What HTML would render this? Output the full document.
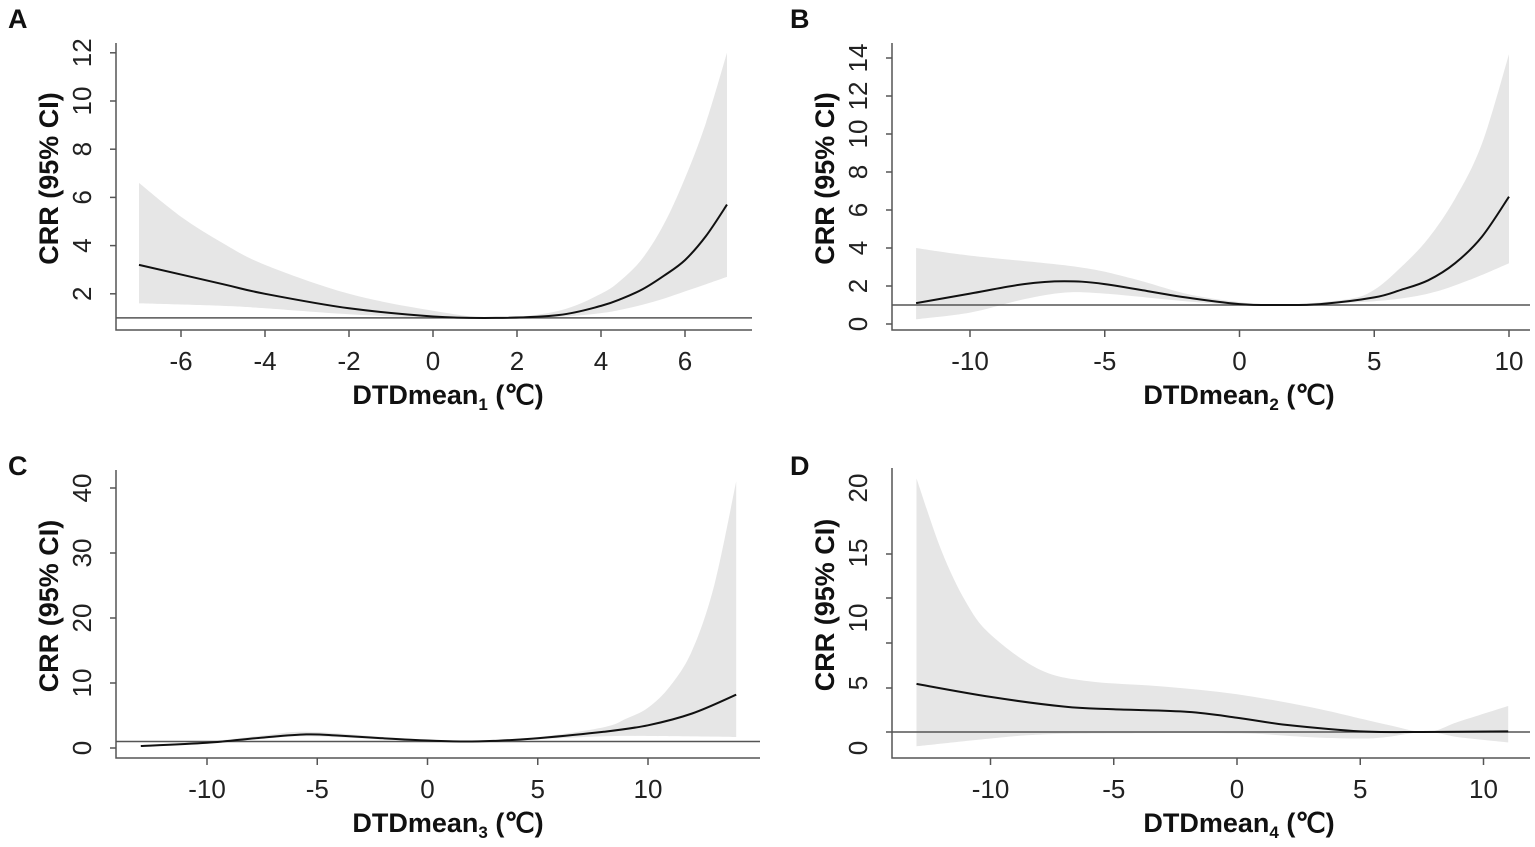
<!DOCTYPE html>
<html><head><meta charset="utf-8"><style>
body{margin:0;background:#fff;}
svg{display:block;font-family:"Liberation Sans",Arial,sans-serif;}
.t{font-size:26px;fill:#222;}
.b{font-size:27px;font-weight:bold;fill:#111;}
</style></head><body>
<svg id="s" width="1535" height="847" viewBox="0 0 1535 847" xmlns="http://www.w3.org/2000/svg"></svg>
<script>
const S=document.getElementById('s');let h='';
function cr(pts){let d='M'+pts[0][0].toFixed(1)+','+pts[0][1].toFixed(1);
 for(let i=0;i<pts.length-1;i++){const p0=pts[Math.max(0,i-1)],p1=pts[i],p2=pts[i+1],p3=pts[Math.min(pts.length-1,i+2)];
 const c1=[p1[0]+(p2[0]-p0[0])/6,p1[1]+(p2[1]-p0[1])/6],c2=[p2[0]-(p3[0]-p1[0])/6,p2[1]-(p3[1]-p1[1])/6];
 d+='C'+c1.map(v=>v.toFixed(1))+' '+c2.map(v=>v.toFixed(1))+' '+p2[0].toFixed(1)+','+p2[1].toFixed(1);}return d;}
function panel(P){
 const X=v=>P.x0+v*P.xs, Y=v=>P.y0-v*P.ys;
 const up=P.up.map(p=>[X(p[0]),Y(p[1])]),lo=P.lo.map(p=>[X(p[0]),Y(p[1])]).reverse();
 let d=cr(up);let dl=cr(lo);d+='L'+dl.slice(1);d+='Z';
 h+=`<path d="${d}" fill="#e6e6e6"/>`;
 h+=`<line x1="${P.ax}" y1="${Y(1)}" x2="${P.axr}" y2="${Y(1)}" stroke="#555" stroke-width="1.5"/>`;
 h+=`<path d="${cr(P.c.map(p=>[X(p[0]),Y(p[1])]))}" fill="none" stroke="#111" stroke-width="2"/>`;
 h+=`<path d="M${P.ax},${P.top}V${P.bot}H${P.axr}" fill="none" stroke="#555" stroke-width="1.5"/>`;
 P.yt.forEach((v,i)=>{const y=P.ytp?P.ytp[i]:Y(v);h+=`<line x1="${P.ax-6}" y1="${y}" x2="${P.ax}" y2="${y}" stroke="#555" stroke-width="1.5"/>`;
  const ly=P.ylp?P.ylp[i]:y;h+=`<text class="t" transform="translate(${P.ax-25},${ly}) rotate(-90)" text-anchor="middle">${v}</text>`;});
 P.xt.forEach(v=>{const x=X(v);h+=`<line x1="${x}" y1="${P.bot}" x2="${x}" y2="${P.bot+7}" stroke="#555" stroke-width="1.5"/>`;
  h+=`<text class="t" x="${x}" y="${P.bot+40}" text-anchor="middle">${v}</text>`;});
 h+=`<text class="b" x="${P.xtc}" y="${P.bot+74}" text-anchor="middle">DTDmean<tspan font-size="17" dy="6">${P.n}</tspan><tspan dy="-6"> (℃)</tspan></text>`;
 h+=`<text class="b" transform="translate(${P.ax-58},${(P.top+P.bot)/2-8}) rotate(-90)" text-anchor="middle">CRR (95% CI)</text>`;
 h+=`<text class="b" x="${P.lx}" y="${P.ly}" font-size="23">${P.L}</text>`;
}
panel({L:'A',lx:8,ly:28,n:1,x0:433,xs:42,y0:342,ys:24.1,ax:116,axr:752,top:43,bot:330,xtc:448,
 yt:[2,4,6,8,10,12],xt:[-6,-4,-2,0,2,4,6],
 c:[[-7,3.2],[-5,2.4],[-4,2.0],[-2,1.4],[0,1.06],[1.5,1.0],[3,1.12],[4,1.5],[4.5,1.8],[5,2.2],[5.5,2.75],[6,3.4],[6.5,4.4],[7,5.7]],
 up:[[-7,6.6],[-6,5.2],[-5,4.1],[-4,3.2],[-2,2.0],[0,1.3],[1.5,1.0],[3,1.3],[4,2.0],[4.5,2.6],[5,3.5],[5.5,4.9],[6,6.8],[6.5,9.1],[7,12]],
 lo:[[-7,1.6],[-5,1.5],[-4,1.4],[-2,1.15],[0,1.0],[1.5,1.0],[3,1.05],[4,1.2],[4.5,1.35],[5,1.55],[5.5,1.8],[6,2.1],[6.5,2.4],[7,2.7]]});
panel({L:'B',lx:790,ly:28,n:2,x0:1239.5,xs:26.95,y0:324,ys:19,ax:892,axr:1530,top:43,bot:330,xtc:1239,
 yt:[0,2,4,6,8,10,12,14],xt:[-10,-5,0,5,10],
 c:[[-12,1.1],[-10,1.6],[-8,2.1],[-6.5,2.25],[-5,2.1],[-2,1.4],[0,1.05],[1.5,1.0],[3,1.05],[5,1.4],[6,1.8],[7,2.3],[8,3.2],[9,4.6],[10,6.7]],
 up:[[-12,4.0],[-10,3.6],[-6,3.0],[-4,2.4],[-2,1.6],[0,1.15],[1.5,1.0],[4,1.3],[5,1.8],[6,3.0],[7,4.5],[8,6.6],[9,9.5],[10,14.2]],
 lo:[[-12,0.25],[-10,0.6],[-8,1.3],[-6.5,1.65],[-5,1.6],[-2,1.2],[0,1.0],[1.5,1.0],[5,1.2],[7,1.6],[8.5,2.3],[10,3.2]]});
panel({L:'C',lx:8,ly:475,n:3,x0:427.5,xs:22.05,y0:748,ys:6.5,ax:116,axr:760,top:470,bot:758,xtc:448,
 yt:[0,10,20,30,40],xt:[-10,-5,0,5,10],
 c:[[-13,0.3],[-10,0.8],[-7.5,1.6],[-5.5,2.1],[-4,1.9],[-2,1.5],[0,1.15],[1.5,1.0],[3,1.1],[5,1.5],[8,2.5],[10,3.5],[12,5.3],[14,8.2]],
 up:[[-13,0.4],[-10,1.0],[-7.5,1.9],[-5.5,2.5],[-2,1.7],[0,1.25],[1.5,1.0],[5,1.7],[8,3.2],[9,4.5],[10,6.2],[11,9.5],[12,15],[13,25],[14,41]],
 lo:[[-13,0.25],[-10,0.7],[-7.5,1.4],[-5.5,1.8],[-2,1.3],[0,1.05],[1.5,1.0],[5,1.35],[8,1.8],[10,1.85],[14,1.7]]});
panel({L:'D',lx:790,ly:475,n:4,x0:1237,xs:24.65,y0:745,ys:13,ax:892,axr:1530,top:468,bot:758,xtc:1239,
 yt:[0,5,10,15,20],ytp:[732,688,643,598,554],ylp:[748,683,618,553,488],xt:[-10,-5,0,5,10],
 c:[[-13,4.7],[-10,3.7],[-7,2.95],[-5,2.75],[-2,2.55],[0,2.1],[2,1.55],[5,1.05],[7.5,1.0],[11,1.05]],
 up:[[-13,20.5],[-12,15],[-11,11],[-10,8.5],[-8,5.8],[-6,4.9],[-3,4.5],[0,3.9],[3,2.9],[6,1.6],[7.7,1.0],[9,1.8],[11,3.0]],
 lo:[[-13,-0.1],[-10,0.5],[-8,0.8],[-5,0.9],[0,0.9],[3,0.6],[5,0.5],[6,0.6],[7.7,1.0],[9,0.6],[11,0.2]]});
S.innerHTML=h;
</script>
</body></html>
